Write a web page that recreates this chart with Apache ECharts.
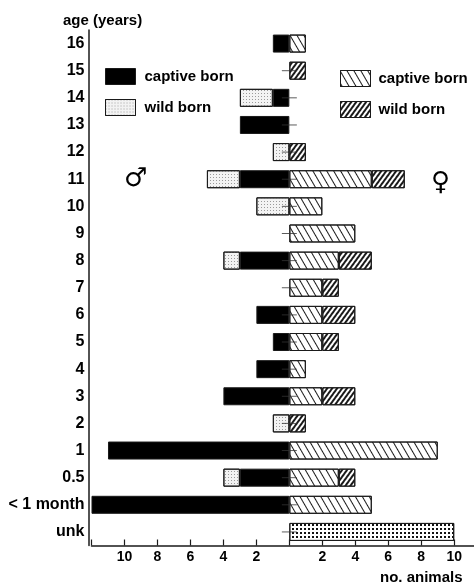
<!DOCTYPE html>
<html>
<head>
<meta charset="utf-8">
<script src="https://cdn.jsdelivr.net/npm/echarts@6/dist/echarts.min.js"></script>
<style>
html,body{margin:0;padding:0;background:#fff;}
#c{width:474px;height:584px;}
</style>
</head>
<body>
<div id="c"></div>
<script>
var categories = ['16','15','14','13','12','11','10','9','8','7','6','5','4','3','2','1','0.5','< 1 month','unk'];
var maleCaptive   = [1,0,1,3,0,3,0,0,3,0,2,1,2,4,0,11,3,12,0];
var maleWild      = [0,0,2,0,1,2,2,0,1,0,0,0,0,0,1,0,1,0,0];
var femaleCaptive = [1,0,0,0,0,5,2,4,3,2,2,2,1,2,0,9,3,5,0];
var femaleWild    = [0,1,0,0,1,2,0,0,2,1,2,1,0,2,1,0,1,0,0];
var unknownSex    = [0,0,0,0,0,0,0,0,0,0,0,0,0,0,0,0,0,0,10];
var zeroMarks     = [0,1,1,1,1,1,1,1,1,1,1,1,1,1,1,1,1,1,1];
var xTicks = { min: -12, max: 11.2, interval: 2 };
var seriesLabels = { m_captive: 'captive born', m_wild: 'wild born', f_captive: 'captive born', f_wild: 'wild born' };

function neg(arr){ return arr.map(function(v){ return v ? -v : '-'; }); }
function pos(arr){ return arr.map(function(v){ return v ? v : '-'; }); }

var FONT = '"Liberation Sans", Arial, Helvetica, sans-serif';

var styles = {
  m_captive: { color: '#000', borderColor: '#1a1a1a', borderWidth: 1 },
  m_wild: { color: '#f3f3f3', borderColor: '#1a1a1a', borderWidth: 1,
    decal: { symbol: 'rect', symbolSize: 1, dashArrayX: [1, 2], dashArrayY: [1, 2], color: '#9a9a9a' } },
  f_captive: { color: '#fff', borderColor: '#1a1a1a', borderWidth: 1,
    decal: { symbol: 'rect', symbolSize: 1, dashArrayX: [5, 0], dashArrayY: [1, 4.2], rotation: Math.PI / 3, color: '#1a1a1a' } },
  f_wild: { color: '#fff', borderColor: '#1a1a1a', borderWidth: 1,
    decal: { symbol: 'rect', symbolSize: 1, dashArrayX: [5, 0], dashArrayY: [1.4, 1.8], rotation: -0.3 * Math.PI, color: '#1a1a1a' } },
  unk: { color: '#fff', borderColor: '#1a1a1a', borderWidth: 1,
    decal: { symbol: 'rect', symbolSize: 1, dashArrayX: [2, 2], dashArrayY: [2, 2], color: '#111' } }
};

function barSeries(name, data){
  return { name: name, type: 'bar', stack: 'all', barWidth: 18, data: data, itemStyle: styles[name] };
}

var markData = [];
zeroMarks.forEach(function(f, i){ if (f) markData.push([0, i]); });

var chart = echarts.init(document.getElementById('c'), null, { renderer: 'canvas' });
chart.setOption({
  animation: false,
  backgroundColor: '#fff',
  title: { text: 'age (years)', left: 63, top: 13, padding: 0,
    textStyle: { fontFamily: FONT, fontSize: 15, fontWeight: 'bold', color: '#000' } },
  grid: { left: 91.5, right: 0, top: 30, bottom: 38.5 },
  legend: [
    { data: ['m_captive', 'm_wild'], orient: 'vertical', left: 105, top: 68, padding: 0,
      icon: 'rect', itemWidth: 30, itemHeight: 16, itemGap: 14,
      formatter: function(n){ return seriesLabels[n]; },
      itemStyle: { borderColor: '#1a1a1a', borderWidth: 1 },
      textStyle: { fontFamily: FONT, fontSize: 15, fontWeight: 'bold', color: '#000', padding: [0,0,0,4] } },
    { data: ['f_captive', 'f_wild'], orient: 'vertical', left: 340, top: 70, padding: 0,
      icon: 'rect', itemWidth: 30, itemHeight: 16, itemGap: 14,
      formatter: function(n){ return seriesLabels[n]; },
      itemStyle: { borderColor: '#1a1a1a', borderWidth: 1 },
      textStyle: { fontFamily: FONT, fontSize: 15, fontWeight: 'bold', color: '#000', padding: [0,0,0,3] } }
  ],
  xAxis: {
    type: 'value', min: xTicks.min, max: xTicks.max, interval: xTicks.interval,
    splitLine: { show: false },
    axisLine: { show: true, lineStyle: { color: '#1a1a1a', width: 1.5 } },
    axisTick: { show: true, inside: true, length: 6, lineStyle: { color: '#1a1a1a', width: 1.2 } },
    axisLabel: { margin: 5, fontFamily: FONT, fontSize: 14, fontWeight: 'bold', color: '#000', showMaxLabel: false,
      formatter: function(v){ return (v === 0 || v === xTicks.min || v % 2 !== 0) ? '' : String(Math.abs(v)); } }
  },
  yAxis: {
    type: 'category', data: categories, inverse: true, offset: 3,
    axisLine: { show: true, onZero: false, lineStyle: { color: '#1a1a1a', width: 1.5 } },
    axisTick: { show: false },
    axisLabel: { margin: 4, padding: [4, 0, 0, 0], fontFamily: FONT, fontSize: 16, fontWeight: 'bold', color: '#000' }
  },
  graphic: [
    { type: 'text', left: 380, top: 570, style: { text: 'no. animals', font: 'bold 15px ' + FONT, fill: '#000' } },
    { type: 'text', left: 124, top: 166, style: { text: '\u2642', font: '26px "DejaVu Sans"', fill: '#000' } },
    { type: 'text', left: 431, top: 170, style: { text: '\u2640', font: '26px "DejaVu Sans"', fill: '#000' } }
  ],
  series: [
    barSeries('m_captive', neg(maleCaptive)),
    barSeries('m_wild', neg(maleWild)),
    barSeries('f_captive', pos(femaleCaptive)),
    barSeries('f_wild', pos(femaleWild)),
    barSeries('unk', pos(unknownSex)),
    { name: 'zero', type: 'scatter', data: markData, symbol: 'rect', symbolSize: [15, 1],
      itemStyle: { color: '#333' }, z: 5, silent: true }
  ]
});
</script>
</body>
</html>
